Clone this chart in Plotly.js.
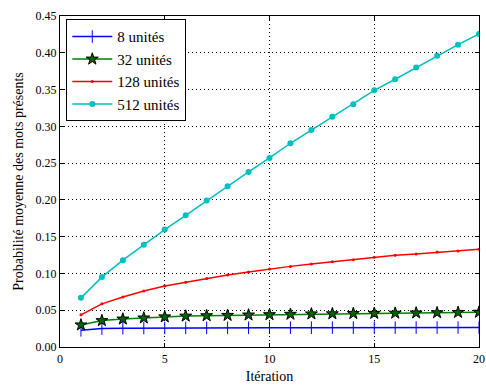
<!DOCTYPE html>
<html><head><meta charset="utf-8">
<script src="https://cdn.plot.ly/plotly-3.0.1.min.js"></script>
<style>body{margin:0;padding:0;background:#fff}#c{width:486px;height:385px}</style>
</head><body><div id="c"></div>
<script>
const iterations = [1,2,3,4,5,6,7,8,9,10,11,12,13,14,15,16,17,18,19,20];
const units8   = [0.0227,0.0250,0.0256,0.0258,0.0259,0.0260,0.0260,0.0261,0.0261,0.0262,0.0262,0.0262,0.0263,0.0263,0.0263,0.0263,0.0264,0.0264,0.0264,0.0264];
const units32  = [0.0300,0.0359,0.0380,0.0395,0.0410,0.0420,0.0425,0.0430,0.0435,0.0440,0.0445,0.0450,0.0452,0.0455,0.0458,0.0460,0.0463,0.0466,0.0470,0.0473];
const units128 = [0.0437,0.0587,0.0680,0.0760,0.0828,0.0880,0.0932,0.0980,0.1020,0.1060,0.1096,0.1128,0.1160,0.1187,0.1219,0.1246,0.1266,0.1290,0.1305,0.1330];
const units512 = [0.0668,0.0950,0.1180,0.1390,0.1596,0.1790,0.1990,0.2187,0.2380,0.2570,0.2770,0.2950,0.3130,0.3300,0.3490,0.3640,0.3800,0.3960,0.4110,0.4256];
const seriesNames = ["8 unités","32 unités","128 unités","512 unités"];

const font = "'Liberation Serif', 'DejaVu Serif', serif";
const traces = [
  {x: iterations, y: units8, name: seriesNames[0], mode: "lines+markers",
   line: {color: "#0000ff", width: 1.5},
   marker: {symbol: "line-ns-open", size: 9, color: "#0000ff", line: {color: "#0000ff", width: 1}}},
  {x: iterations, y: units32, name: seriesNames[1], mode: "lines+markers",
   line: {color: "#008000", width: 1.5},
   marker: {symbol: "star", size: 9, color: "#006400", line: {color: "#000000", width: 1}}},
  {x: iterations, y: units128, name: seriesNames[2], mode: "lines+markers",
   line: {color: "#ff0000", width: 1.5},
   marker: {symbol: "circle", size: 3, color: "#ff0000"}},
  {x: iterations, y: units512, name: seriesNames[3], mode: "lines+markers",
   line: {color: "#00bfbf", width: 1.5},
   marker: {symbol: "circle", size: 6, color: "#00bfbf"}}
];
const axisCommon = {
  showline: true, linecolor: "#000", linewidth: 1.2, mirror: "ticks",
  ticks: "inside", ticklen: 4, tickcolor: "#000", tickwidth: 1,
  showgrid: true, gridcolor: "#000", griddash: "1px,3px", gridwidth: 1,
  zeroline: false, tickfont: {family: font, size: 12, color: "#000"}
};
const layout = {
  width: 486, height: 385,
  margin: {l: 60, r: 7, t: 16, b: 38},
  paper_bgcolor: "#fff", plot_bgcolor: "#fff",
  font: {family: font, color: "#000"},
  showlegend: true,
  xaxis: Object.assign({}, axisCommon, {range: [0, 20], tickvals: [0,5,10,15,20],
     title: {text: "Itération", font: {family: font, size: 14}, standoff: 6}}),
  yaxis: Object.assign({}, axisCommon, {range: [0, 0.45], dtick: 0.05, tickformat: ".2f",
     title: {text: "Probabilité moyenne des mots présents", font: {family: font, size: 14}, standoff: 8}}),
  legend: {x: 0.015, y: 0.99, xanchor: "left", yanchor: "top",
     bgcolor: "#fff", bordercolor: "#000", borderwidth: 1,
     font: {family: font, size: 15}, tracegroupgap: 0, itemwidth: 40}
};
Plotly.newPlot("c", traces, layout, {displayModeBar: false, staticPlot: true});
</script></body></html>
